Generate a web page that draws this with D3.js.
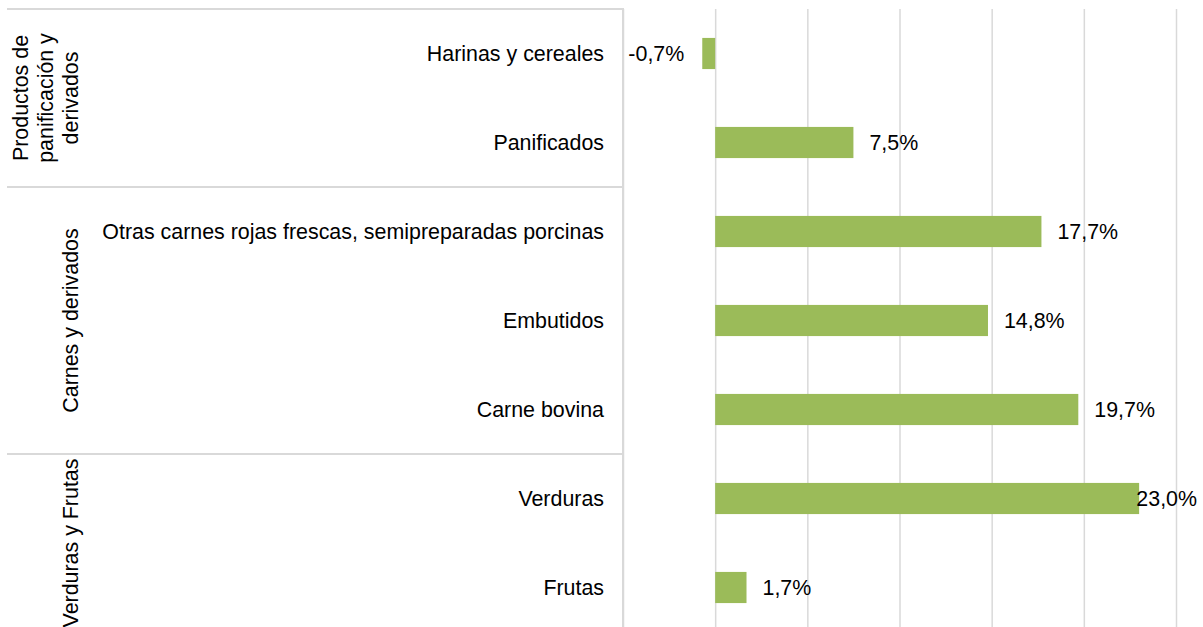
<!DOCTYPE html>
<html>
<head>
<meta charset="utf-8">
<script src="https://cdn.jsdelivr.net/npm/d3@7"></script>
<style>
  body { margin: 0; background: #fff; }
  svg { display: block; font-family: "Liberation Sans", Arial, Helvetica, sans-serif; }
</style>
</head>
<body>
<svg width="1203" height="627"></svg>
<script>
// data
var categories = ["Harinas y cereales", "Panificados",
    "Otras carnes rojas frescas, semipreparadas porcinas", "Embutidos", "Carne bovina",
    "Verduras", "Frutas"];
var values = [-0.7, 7.5, 17.7, 14.8, 19.7, 23.0, 1.7];
var groupOf = [0, 0, 1, 1, 1, 2, 2];
var groupLabels = [["Productos de", "panificación y", "derivados"], ["Carnes y derivados"], ["Verduras y Frutas"]];
var xTicks = [-5, 0, 5, 10, 15, 20, 25];

var width = 1203;
var height = 627;
var plot = {top: 9, bottom: 632, left: 623, right: 1176};
var fontSize = 21.4;

var svg = d3.select('svg');

//scales
var xScale = d3.scaleLinear()
    .domain([-5, 25])
    .range([plot.left, plot.right]);
var yScale = d3.scaleBand()
    .domain(categories)
    .range([plot.top, plot.bottom])
    .paddingInner(0.65)
    .paddingOuter(0.325);
var step = yScale.step();

// gridlines (the axis labels sit below the visible area, so none are drawn)
var xAxis = d3.axisBottom(xScale)
    .tickValues(xTicks)
    .tickSize(-(plot.bottom - plot.top))
    .tickFormat('');
var gx = svg.append('g')
    .attr('transform', 'translate(0,' + plot.bottom + ')')
    .call(xAxis);
gx.select('.domain').remove();
gx.selectAll('.tick line').attr('stroke', '#d9d9d9').attr('stroke-width', 1.5);

// category frame on the left
var groupStarts = [];
groupOf.forEach((g, i) => { if (i === 0 || groupOf[i - 1] !== g) groupStarts.push(i); });
svg.selectAll('line.frame')
    .data(groupStarts)
    .enter().append('line')
    .attr('class', 'frame')
    .attr('x1', 7)
    .attr('x2', plot.left)
    .attr('y1', i => yScale(categories[i]) - step * 0.325)
    .attr('y2', i => yScale(categories[i]) - step * 0.325)
    .attr('stroke', '#d9d9d9')
    .attr('stroke-width', 2);
svg.append('line')
    .attr('x1', plot.left).attr('x2', plot.left)
    .attr('y1', plot.top - 1).attr('y2', plot.bottom)
    .attr('stroke', '#d9d9d9')
    .attr('stroke-width', 2);

// group labels (rotated)
groupLabels.forEach((lines, g) => {
    var idx = categories.filter((c, i) => groupOf[i] === g);
    var y0 = yScale(idx[0]) - step * 0.325;
    var y1 = yScale(idx[idx.length - 1]) + yScale.bandwidth() + step * 0.325;
    var t = svg.append('text')
        .attr('transform', 'translate(78,' + ((y0 + y1) / 2) + ') rotate(-90)')
        .attr('text-anchor', 'middle')
        .attr('font-size', fontSize)
        .attr('fill', '#000');
    lines.forEach((line, k) => {
        t.append('tspan')
            .attr('x', 0)
            .attr('y', -(lines.length - 1 - k) * 25)
            .text(line);
    });
});

// category labels
svg.selectAll('text.cat')
    .data(categories)
    .enter().append('text')
    .attr('class', 'cat')
    .attr('x', 604)
    .attr('y', d => yScale(d) + yScale.bandwidth() / 2)
    .attr('dy', '0.35em')
    .attr('text-anchor', 'end')
    .attr('font-size', fontSize)
    .attr('fill', '#000')
    .text(d => d);

// bars
svg.selectAll('rect.bar')
    .data(values)
    .enter().append('rect')
    .attr('class', 'bar')
    .attr('x', d => xScale(Math.min(0, d)))
    .attr('y', (d, i) => yScale(categories[i]))
    .attr('width', d => Math.abs(xScale(d) - xScale(0)))
    .attr('height', yScale.bandwidth())
    .attr('fill', '#9bbb59');

// value labels
var fmt = d => d3.format('.1f')(d).replace('.', ',').replace('\u2212', '-') + '%';
svg.selectAll('text.val')
    .data(values)
    .enter().append('text')
    .attr('class', 'val')
    .attr('y', (d, i) => yScale(categories[i]) + yScale.bandwidth() / 2)
    .attr('dy', '0.35em')
    .attr('font-size', fontSize)
    .attr('fill', '#000')
    .text(fmt)
    .each(function(d) {
        var w = this.getComputedTextLength();
        var x;
        if (d < 0) {
            x = xScale(d) - 18 - w;
        } else {
            x = Math.min(xScale(d) + 16, width - 6 - w);
        }
        d3.select(this).attr('x', x);
    });
</script>
</body>
</html>
